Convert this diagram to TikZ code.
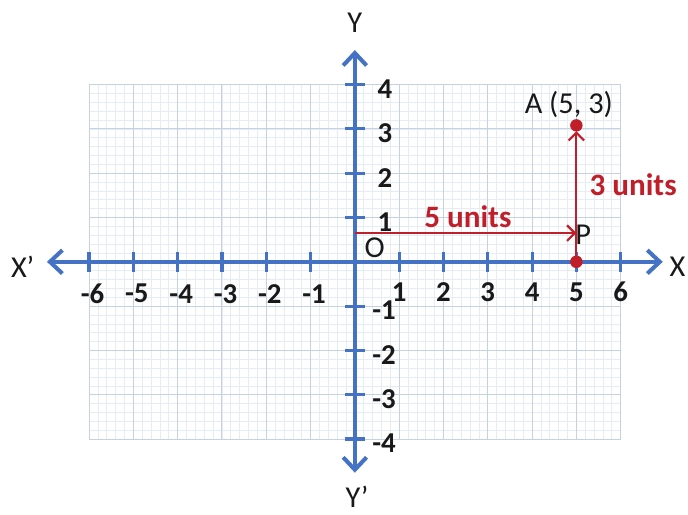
\documentclass[tikz,border=0pt]{standalone}
\usepackage{fontspec}
\setmainfont{Carlito}
\usetikzlibrary{arrows.meta}
\definecolor{axisblue}{RGB}{68,114,196}
\definecolor{ptred}{RGB}{192,30,40}
\definecolor{gridminor}{RGB}{228,236,245}
\definecolor{gridmajor}{RGB}{196,210,228}
\definecolor{txt}{RGB}{25,25,25}
\tikzset{
  axisline/.style={draw=axisblue, line width=2.6pt, {Straight Barb[length=8pt,width=15pt,line width=2.6pt]}-{Straight Barb[length=8pt,width=15pt,line width=2.6pt]}},
  tickmark/.style={draw=axisblue, line width=2pt},
  ticklabel/.style={font=\fontsize{18.5}{22}\selectfont\bfseries, text=txt, inner sep=0pt},
  axislabel/.style={font=\fontsize{19.5}{23}\selectfont, text=txt, inner sep=0pt},
  redlabel/.style={font=\fontsize{20}{24}\selectfont\bfseries, text=ptred, inner sep=0pt},
  redarrow/.style={draw=ptred, line width=1.4pt, -{Straight Barb[length=5pt,width=10pt,line width=1.4pt]}},
  ptdot/.style={circle, fill=ptred, inner sep=0pt, minimum size=8pt}
}
\begin{document}
\begin{tikzpicture}[x=1cm,y=1cm]
\useasboundingbox[fill=white] (-8.01,-5.71) rectangle (7.52,5.91);
% grid
\draw[gridminor, line width=0.4pt] (-6,-4) grid[step=0.2] (6,4);
\draw[gridmajor, line width=0.6pt] (-6,-4) grid[step=1] (6,4);
% axes
\coordinate (xl) at (-6.95,0);
\coordinate (xr) at (6.95,0);
\coordinate (yt) at (0,4.78);
\coordinate (yb) at (0,-4.76);
\draw[axisline] (xl) -- (xr);
\draw[axisline] (yb) -- (yt);
% ticks
\foreach \i in {-6,-5,-4,-3,-2,-1,1,2,3,4,5,6}{
  \draw[tickmark] (\i,-0.22) -- (\i,0.22);
}
\foreach \j in {-4,-3,-2,-1,1,2,3,4}{
  \draw[tickmark] (-0.22,\j) -- (0.22,\j);
}
% x tick labels
\foreach \i in {1,2,3,4,5,6}{
  \node[ticklabel] (xt\i) at (\i,-0.68) {\i};
}
\foreach \i/\n in {-6/m6,-5/m5,-4/m4,-3/m3,-2/m2,-1/m1}{
  \node[ticklabel] (xt\n) at (\i+0.08,-0.72) {-\the\numexpr-\i\relax};
}
% y tick labels
\foreach \j in {1,2,3,4}{
  \node[ticklabel] (yt\j) at (0.68,\j-0.1) {\j};
}
\foreach \j/\n in {-1/m1,-2/m2,-3/m3,-4/m4}{
  \node[ticklabel] (yt\n) at (0.66,\j-0.1) {-\the\numexpr-\j\relax};
}
% axis names
\node[axislabel] (Y) at (0,5.4) {Y};
\node[axislabel] (Yp) at (0.05,-5.3) {Y’};
\node[axislabel] (Xp) at (-7.5,-0.12) {X’};
\node[axislabel, anchor=west] (X) at (7.1,-0.12) {X};
\node[axislabel] (O) at (0.45,0.32) {O};
% points
\node[ptdot] (Pd) at (5,0) {};
\node[ptdot] (Ad) at (5,3.08) {};
\coordinate (S) at (0,0.65);
\coordinate (Pe) at (5,0.65);
\coordinate (At) at (5,2.95);
\draw[redarrow] (S) -- (Pe);
\draw[redarrow] (Pd.center) -- (At);
\node[axislabel, anchor=west] (P) at (4.97,0.6) {P};
\node[axislabel] (A) at (4.83,3.54) {A (5, 3)};
\node[redlabel] (u5) at (2.55,1.02) {5 units};
\node[redlabel] (u3) at (6.28,1.74) {3 units};
\end{tikzpicture}
\end{document}
